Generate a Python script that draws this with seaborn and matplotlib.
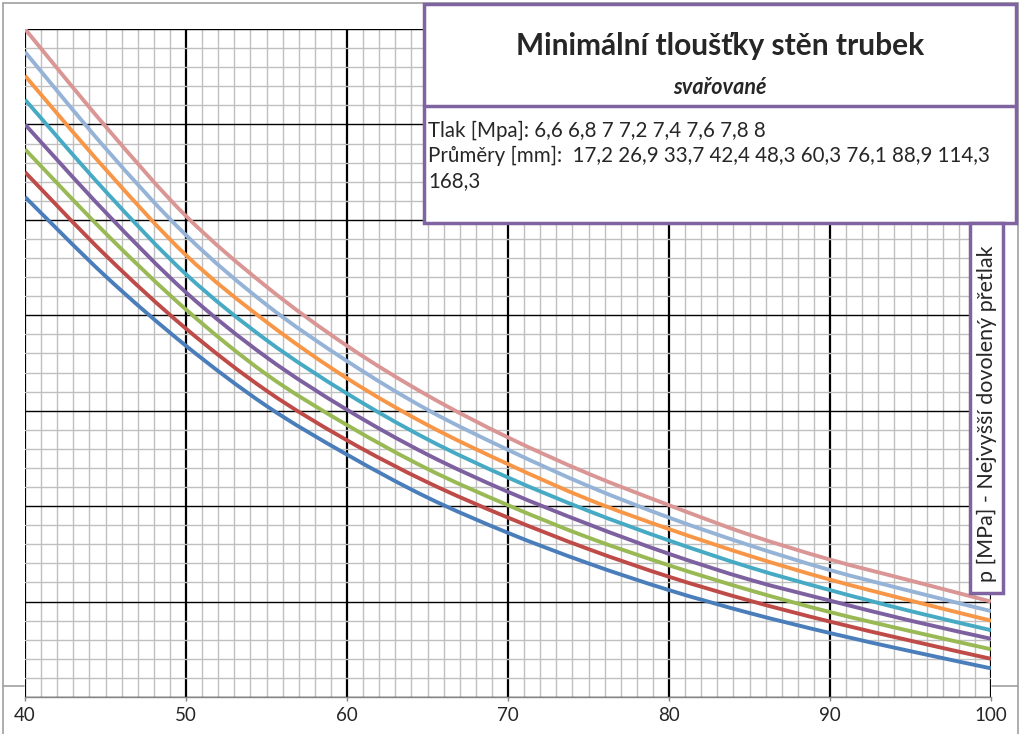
import matplotlib
matplotlib.use("Agg")
import matplotlib.pyplot as plt
import matplotlib.patches as mpatches
from matplotlib.lines import Line2D
from matplotlib.path import Path
from matplotlib.ticker import MultipleLocator
import numpy as np
import pandas as pd
import seaborn as sns

# values (y axis has no labels, 0..7 units)
x_vals = [40, 45, 50, 55, 60, 65, 70, 75, 80, 85, 90, 95, 100]
tlak = ['6,6', '6,8', '7', '7,2', '7,4', '7,6', '7,8', '8']

p66 = [5.24, 4.41, 3.68, 3.05, 2.54, 2.09, 1.72, 1.40, 1.12, 0.88, 0.67, 0.48, 0.30]
p68 = [5.50, 4.63, 3.86, 3.21, 2.69, 2.25, 1.88, 1.55, 1.26, 1.01, 0.79, 0.59, 0.40]
p70 = [5.74, 4.86, 4.06, 3.38, 2.85, 2.39, 2.01, 1.67, 1.38, 1.12, 0.89, 0.69, 0.50]
p72 = [6.00, 5.08, 4.24, 3.56, 3.01, 2.54, 2.15, 1.81, 1.50, 1.23, 1.01, 0.80, 0.61]
p74 = [6.26, 5.30, 4.43, 3.74, 3.18, 2.70, 2.30, 1.95, 1.64, 1.36, 1.12, 0.90, 0.70]
p76 = [6.51, 5.53, 4.63, 3.93, 3.34, 2.85, 2.44, 2.07, 1.76, 1.48, 1.23, 1.01, 0.80]
p78 = [6.76, 5.75, 4.84, 4.11, 3.52, 3.01, 2.59, 2.21, 1.88, 1.59, 1.33, 1.11, 0.90]
p80 = [7.00, 5.98, 5.04, 4.30, 3.68, 3.16, 2.72, 2.34, 2.01, 1.70, 1.44, 1.22, 1.00]

colors = ['#4A7EBB', '#BE4B48', '#98B954', '#7D60A0', '#46AAC5', '#F79646', '#95B3D7', '#D99694']

series = [p66, p68, p70, p72, p74, p76, p78, p80]
df = pd.concat([pd.DataFrame({'x': x_vals, 'y': s, 'tlak': t}) for s, t in zip(series, tlak)])

sns.set_theme(style="white")
plt.rcParams['font.family'] = ['Lato', 'DejaVu Sans']

W, H = 1029, 734
fig = plt.figure(figsize=(W / 100, H / 100), dpi=100)

def fx(px):
    return px / W

def fy(py):
    return 1 - py / H

ax = fig.add_axes([fx(25), fy(697), fx(991) - fx(25), fy(29) - fy(697)])

sns.lineplot(data=df, x='x', y='y', hue='tlak', palette=colors, linewidth=2.8,
             legend=False, ax=ax, zorder=5)

# Excel-style smoothed lines: redraw each seaborn line as a Bezier path through its points
for line in list(ax.lines):
    pts = np.asarray(line.get_xydata())
    verts = [pts[0]]
    codes = [Path.MOVETO]
    for i in range(len(pts) - 1):
        p0 = pts[max(i - 1, 0)]
        p1, p2 = pts[i], pts[i + 1]
        p3 = pts[min(i + 2, len(pts) - 1)]
        verts += [p1 + (p2 - p0) / 6, p2 - (p3 - p1) / 6, p2]
        codes += [Path.CURVE4] * 3
    ax.add_patch(mpatches.PathPatch(Path(verts, codes), facecolor='none',
                                    edgecolor=line.get_color(), lw=line.get_linewidth(),
                                    capstyle='butt', joinstyle='round', zorder=5))
    line.set_visible(False)

ax.set_xlim(40, 100)
ax.set_ylim(0, 7)
ax.xaxis.set_major_locator(MultipleLocator(10))
ax.xaxis.set_minor_locator(MultipleLocator(1))
ax.yaxis.set_major_locator(MultipleLocator(1))
ax.yaxis.set_minor_locator(MultipleLocator(0.2))

ax.grid(which='minor', color='#C0C0C0', linewidth=1.0, zorder=1)
ax.grid(which='major', axis='x', color='black', linewidth=1.6, zorder=2)
ax.grid(which='major', axis='y', color='black', linewidth=1.0, zorder=2)
ax.set_axisbelow(True)

for side in ['left', 'right', 'top']:
    ax.spines[side].set_visible(False)
ax.spines['bottom'].set_color('#868686')
ax.spines['bottom'].set_linewidth(1.0)

ax.tick_params(axis='x', which='major', length=3, color='#868686', width=1,
               labelsize=13.5, pad=4, bottom=True)
ax.tick_params(axis='x', which='minor', length=0)
ax.tick_params(axis='y', which='both', length=0, labelleft=False)
ax.set_xlabel('')
ax.set_ylabel('')

# outer chart frame pieces
gray = '#A0A0A0'
fig.add_artist(Line2D([fx(3), fx(3)], [fy(3), fy(734)], color=gray, lw=1.2))
fig.add_artist(Line2D([fx(1018), fx(1018)], [fy(3), fy(734)], color=gray, lw=1.2))
fig.add_artist(Line2D([fx(3), fx(1018)], [fy(3), fy(3)], color=gray, lw=1.2))
fig.add_artist(Line2D([fx(3), fx(24)], [fy(686), fy(686)], color=gray, lw=1.2))
fig.add_artist(Line2D([fx(992), fx(1018)], [fy(686), fy(686)], color=gray, lw=1.2))

purple = '#8064A2'
# title box
fig.add_artist(mpatches.Rectangle((fx(424), fy(223)), fx(1016) - fx(424), fy(4) - fy(223),
                                  facecolor='white', edgecolor=purple, lw=2.5, zorder=10))
fig.add_artist(Line2D([fx(424), fx(1016)], [fy(106), fy(106)], color=purple, lw=2.5, zorder=11))
fig.text(fx(720), fy(46), 'Minimální tloušťky stěn trubek', ha='center', va='center',
         fontsize=21.5, fontweight='bold', zorder=12)
fig.text(fx(720), fy(88), 'svařované', ha='center', va='center',
         fontsize=15.5, fontweight='bold', style='italic', zorder=12)
fig.text(fx(428), fy(131), 'Tlak [Mpa]: 6,6 6,8 7 7,2 7,4 7,6 7,8 8', ha='left', va='center',
         fontsize=14.8, zorder=12)
fig.text(fx(428), fy(156), 'Průměry [mm]:  17,2 26,9 33,7 42,4 48,3 60,3 76,1 88,9 114,3',
         ha='left', va='center', fontsize=14.8, zorder=12)
fig.text(fx(428), fy(181), '168,3', ha='left', va='center', fontsize=14.8, zorder=12)

# y label box
fig.add_artist(mpatches.Rectangle((fx(970), fy(593)), fx(1003) - fx(970), fy(223) - fy(593),
                                  facecolor='white', edgecolor=purple, lw=2.5, zorder=10))
fig.text(fx(987), fy(414), 'p [MPa] - Nejvyšší dovolený přetlak', rotation=90,
         ha='center', va='center', fontsize=15.5, zorder=12)

fig.savefig('out.png', dpi=100)
